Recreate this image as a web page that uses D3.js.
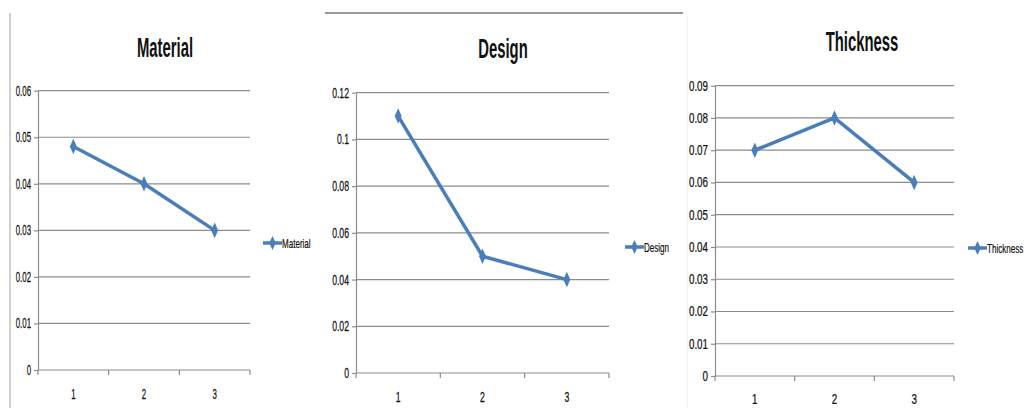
<!DOCTYPE html>
<html>
<head>
<meta charset="utf-8">
<script src="https://cdn.jsdelivr.net/npm/d3@7"></script>
<style>
  html, body { margin: 0; padding: 0; background: #fff; }
  svg { display: block; }
  text { font-family: "Liberation Sans", Arial, sans-serif; fill: #111; }
</style>
</head>
<body>
<svg id="chart" width="1028" height="408"></svg>
<script>
// Factor levels shared by the three charts
const categories = ["1", "2", "3"];

// Mean response per level
const materialValues  = [0.048, 0.040, 0.030];
const designValues    = [0.110, 0.050, 0.040];
const thicknessValues = [0.070, 0.080, 0.060];

// Y tick values for each chart
const materialTicks  = [0, 0.01, 0.02, 0.03, 0.04, 0.05, 0.06];
const designTicks    = [0, 0.02, 0.04, 0.06, 0.08, 0.1, 0.12];
const thicknessTicks = [0, 0.01, 0.02, 0.03, 0.04, 0.05, 0.06, 0.07, 0.08, 0.09];

const titles = ["Material", "Design", "Thickness"];

const LINE = "#4a7ebb";
const GRID = "#8c8c8c";

const svg = d3.select("#chart");

// Frame lines around the middle chart
svg.append("line").attr("x1", 10).attr("x2", 10).attr("y1", 13).attr("y2", 408)
  .attr("stroke", "#d0d0d0").attr("stroke-width", 2);
svg.append("line").attr("x1", 325).attr("x2", 683).attr("y1", 13).attr("y2", 13)
  .attr("stroke", "#7a7a7a").attr("stroke-width", 1.5);
svg.append("line").attr("x1", 687.5).attr("x2", 687.5).attr("y1", 16).attr("y2", 408)
  .attr("stroke", "#f2f2f2").attr("stroke-width", 1);

const panels = [
  { title: titles[0], values: materialValues, ticks: materialTicks, fmt: d3.format(".2~f"),
    left: 38, right: 250, top: 90.7, bottom: 370, titleX: 165, titleY: 57,
    legX: 263, legY: 243, tickScale: 0.56, labOff: 29 },
  { title: titles[1], values: designValues, ticks: designTicks, fmt: d3.format(".2~f"),
    left: 356, right: 609, top: 92.7, bottom: 373, titleX: 503, titleY: 58,
    legX: 625, legY: 247, tickScale: 0.62, labOff: 29 },
  { title: titles[2], values: thicknessValues, ticks: thicknessTicks, fmt: d3.format(".2~f"),
    left: 715, right: 954, top: 85.7, bottom: 376, titleX: 862, titleY: 51,
    legX: 968, legY: 248, tickScale: 0.7, labOff: 28 }
];

const diamond = d3.symbol().type(d3.symbolDiamond).size(58);

panels.forEach(p => {
  const g = svg.append("g");
  const x = d3.scaleBand().domain(categories).range([p.left, p.right]).padding(0);
  const y = d3.scaleLinear().domain([0, d3.max(p.ticks)]).range([p.bottom, p.top]);

  // Title (condensed bold)
  g.append("text")
    .attr("transform", `translate(${p.titleX},${p.titleY}) scale(0.53,1)`)
    .attr("text-anchor", "middle")
    .attr("font-size", 28).attr("font-weight", "bold")
    .text(p.title);

  // Horizontal gridlines
  g.append("g").selectAll("line").data(p.ticks.slice(1)).join("line")
    .attr("x1", p.left).attr("x2", p.right)
    .attr("y1", d => y(d)).attr("y2", d => y(d))
    .attr("stroke", GRID).attr("stroke-width", 1.2);

  // Y axis
  const ya = g.append("g").attr("transform", `translate(${p.left},0)`)
    .call(d3.axisLeft(y).tickValues(p.ticks).tickFormat(p.fmt).tickSize(4).tickSizeOuter(0));
  ya.select(".domain").attr("stroke", GRID).attr("stroke-width", 1.2);
  ya.selectAll(".tick line").attr("stroke", GRID).attr("stroke-width", 1.2);
  ya.selectAll(".tick text")
    .attr("font-family", "Liberation Sans, Arial, sans-serif")
    .attr("font-size", 14).attr("fill", "#111")
    .attr("stroke", "#111").attr("stroke-width", 0.25)
    .attr("x", -7 / p.tickScale)
    .attr("transform", `scale(${p.tickScale},1)`);

  // X axis: baseline with tick marks on band edges
  g.append("line").attr("x1", p.left).attr("x2", p.right)
    .attr("y1", p.bottom).attr("y2", p.bottom)
    .attr("stroke", GRID).attr("stroke-width", 1.2);
  const edges = categories.map(c => x(c)).concat([x(categories[categories.length - 1]) + x.bandwidth()]);
  g.append("g").selectAll("line").data(edges).join("line")
    .attr("x1", d => d).attr("x2", d => d)
    .attr("y1", p.bottom).attr("y2", p.bottom + 5)
    .attr("stroke", GRID).attr("stroke-width", 1.2);
  g.append("g").selectAll("text").data(categories).join("text")
    .attr("transform", c => `translate(${x(c) + x.bandwidth() / 2},${p.bottom + p.labOff}) scale(${p.tickScale},1)`)
    .attr("text-anchor", "middle").attr("font-size", 14)
    .attr("stroke", "#111").attr("stroke-width", 0.25)
    .text(c => c);

  // Series line and diamond markers
  const pts = categories.map((c, i) => [x(c) + x.bandwidth() / 2, y(p.values[i])]);
  g.append("path").attr("d", d3.line()(pts))
    .attr("fill", "none").attr("stroke", LINE).attr("stroke-width", 3.5)
    .attr("stroke-linejoin", "round");
  g.append("g").selectAll("path").data(pts).join("path")
    .attr("d", diamond)
    .attr("transform", d => `translate(${d[0]},${d[1]}) scale(0.85,1.1)`)
    .attr("fill", LINE);

  // Legend
  const lg = g.append("g").attr("transform", `translate(${p.legX},${p.legY})`);
  lg.append("line").attr("x1", 0).attr("x2", 19).attr("y1", 0).attr("y2", 0)
    .attr("stroke", LINE).attr("stroke-width", 3.5);
  lg.append("path").attr("d", diamond).attr("transform", "translate(9.5,0) scale(0.8,1)").attr("fill", LINE);
  lg.append("text")
    .attr("transform", `translate(19,5) scale(0.62,1)`)
    .attr("font-size", 13)
    .attr("stroke", "#111").attr("stroke-width", 0.2)
    .text(p.title);
});
</script>
</body>
</html>
